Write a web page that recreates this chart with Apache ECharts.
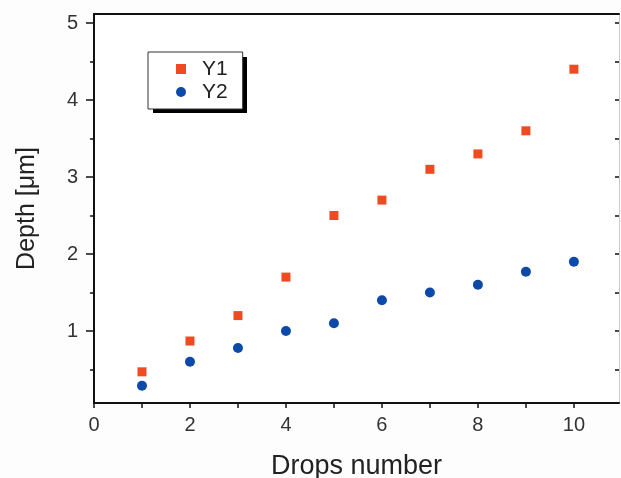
<!DOCTYPE html>
<html>
<head>
<meta charset="utf-8">
<script src="https://cdn.jsdelivr.net/npm/echarts@6/dist/echarts.min.js"></script>
<style>
html,body{margin:0;padding:0;background:#fdfdfd;}
#main{width:621px;height:478px;}
</style>
</head>
<body>
<div id="main"></div>
<script>
// data
var drops = [1, 2, 3, 4, 5, 6, 7, 8, 9, 10];
var y1 = [0.47, 0.87, 1.2, 1.7, 2.5, 2.7, 3.1, 3.3, 3.6, 4.4];
var y2 = [0.29, 0.6, 0.78, 1.0, 1.1, 1.4, 1.5, 1.6, 1.77, 1.9];
var xTicks = [0, 1, 2, 3, 4, 5, 6, 7, 8, 9, 10];
var xLabels = [0, 2, 4, 6, 8, 10];
var yHalfTicks = [0.5, 1, 1.5, 2, 2.5, 3, 3.5, 4, 4.5, 5];
var yLabels = [1, 2, 3, 4, 5];

var font = 'Liberation Sans, Arial, sans-serif';
var yMin = 0.065, yMax = 5.117;

var chart = echarts.init(document.getElementById('main'));

function pairs(ys) {
	var out = [];
	for (var i = 0; i < drops.length; i++) out.push([drops[i], ys[i]]);
	return out;
}

var option = {
	backgroundColor: '#fdfdfd',
	animation: false,
	grid: {left: 94, top: 14, right: 2, bottom: 75, outerBoundsMode: 'none', containLabel: false,
		backgroundColor: '#ffffff', show: true, borderWidth: 0},
	// black drop shadow behind the legend box
	graphic: [{
		type: 'rect',
		left: 153, top: 57, z: 1,
		shape: {width: 94, height: 56},
		style: {fill: '#000000'}
	}],
	legend: {
		left: 148, top: 52, z: 5,
		orient: 'vertical',
		itemWidth: 10, itemHeight: 10,
		itemGap: 1,
		padding: [6, 15, 6, 28],
		backgroundColor: '#ffffff',
		borderColor: '#333333',
		borderWidth: 1,
		borderRadius: 0,
		textStyle: {fontFamily: font, fontSize: 21, color: '#222', lineHeight: 22, padding: [0, 0, 0, 11]},
		data: [{name: 'Y1', icon: 'rect'}, {name: 'Y2', icon: 'circle'}]
	},
	xAxis: [{
		type: 'value',
		position: 'bottom',
		min: 0, max: 10.94,
		name: 'Drops number',
		nameLocation: 'middle',
		nameGap: 50,
		nameTextStyle: {fontFamily: font, fontSize: 27, color: '#222'},
		axisLine: {lineStyle: {color: '#111', width: 2}},
		axisTick: {customValues: xTicks, length: 5, lineStyle: {color: '#111', width: 1.5}},
		axisLabel: {customValues: xLabels, margin: 12, fontFamily: font, fontSize: 20, color: '#333'},
		splitLine: {show: false}
	}, {
		type: 'value',
		position: 'top',
		min: 0, max: 10.94,
		axisLine: {lineStyle: {color: '#111', width: 2}},
		axisTick: {show: false},
		axisLabel: {show: false},
		splitLine: {show: false}
	}],
	yAxis: [{
		type: 'value',
		position: 'left',
		min: yMin, max: yMax,
		name: 'Depth [\u03bcm]',
		nameLocation: 'middle',
		nameGap: 54,
		nameTextStyle: {fontFamily: font, fontSize: 25, color: '#222'},
		axisLine: {show: true, lineStyle: {color: '#111', width: 2}},
		axisTick: {customValues: yHalfTicks, length: 4, lineStyle: {color: '#111', width: 1.5}},
		axisLabel: {customValues: yLabels, margin: 16, fontFamily: font, fontSize: 20, color: '#333'},
		splitLine: {show: false}
	}, {
		type: 'value',
		position: 'left',
		min: yMin, max: yMax,
		axisLine: {show: false},
		axisTick: {customValues: yLabels, length: 8, lineStyle: {color: '#111', width: 1.5}},
		axisLabel: {show: false},
		splitLine: {show: false}
	}, {
		type: 'value',
		position: 'right',
		min: yMin, max: yMax,
		axisLine: {show: true, lineStyle: {color: '#cccccc', width: 1}},
		axisTick: {customValues: yHalfTicks, inside: true, length: 4, lineStyle: {color: '#111', width: 1.5}},
		axisLabel: {show: false},
		splitLine: {show: false}
	}],
	series: [{
		name: 'Y1',
		type: 'scatter',
		symbol: 'rect',
		symbolSize: 9,
		itemStyle: {color: '#f04a23', opacity: 1},
		data: pairs(y1)
	}, {
		name: 'Y2',
		type: 'scatter',
		symbol: 'circle',
		symbolSize: 10,
		itemStyle: {color: '#0d4aa8', opacity: 1},
		data: pairs(y2)
	}]
};
chart.setOption(option);
</script>
</body>
</html>
